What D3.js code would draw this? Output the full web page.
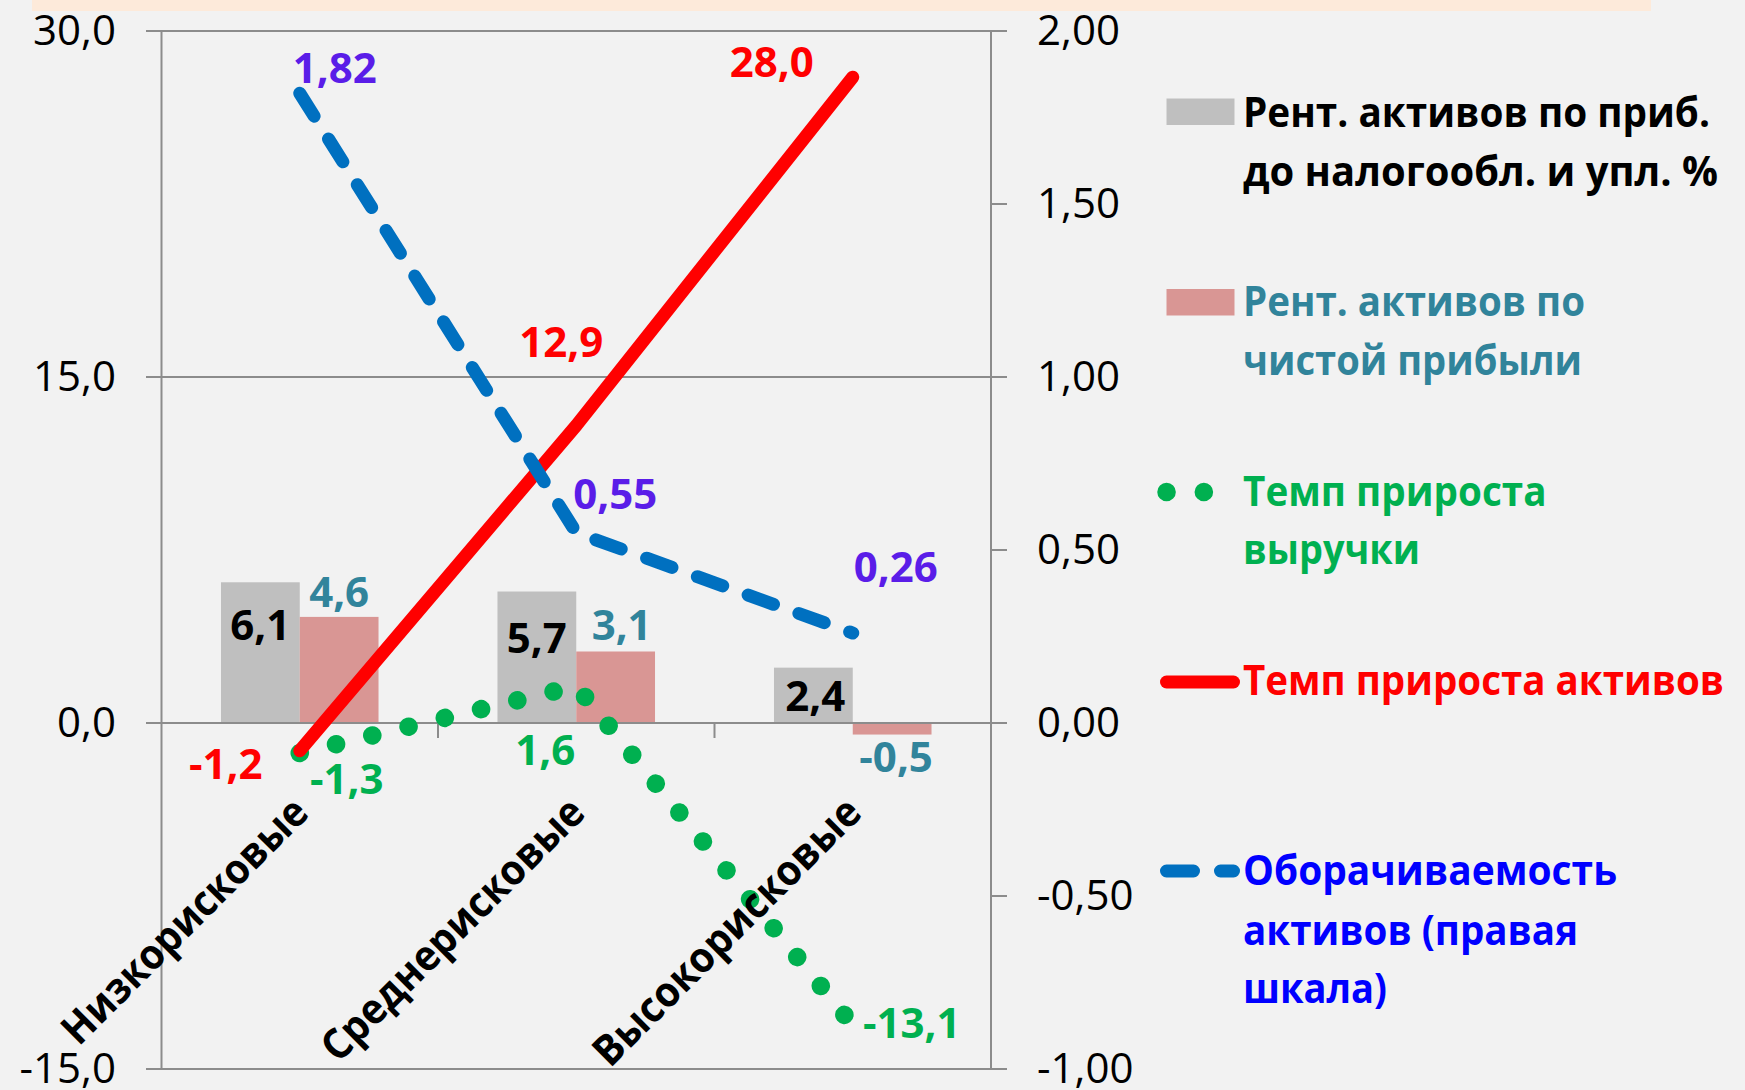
<!DOCTYPE html>
<html>
<head>
<meta charset="utf-8">
<script src="https://cdn.jsdelivr.net/npm/d3@7"></script>
<style>
  html, body { margin: 0; padding: 0; background: #F2F2F2; }
  svg { display: block; }
  text { font-family: "Open Sans", "Noto Sans", "DejaVu Sans", sans-serif; }
</style>
</head>
<body>
<svg id="chart" width="1745" height="1090"></svg>
<script>
// ---------- data ----------
const categories = ["Низкорисковые", "Среднерисковые", "Высокорисковые"];
const roaPreTax = [6.1, 5.7, 2.4];        // bars, grey
const roaNet = [4.6, 3.1, -0.5];          // bars, pink
const revenueGrowth = [-1.3, 1.6, -13.1]; // green dotted
const assetGrowth = [-1.2, 12.9, 28.0];   // red solid
const assetTurnover = [1.82, 0.55, 0.26]; // blue dashed, right axis
const leftTicks = [-15, 0, 15, 30];
const rightTicks = [-1, -0.5, 0, 0.5, 1, 1.5, 2];
const legendTexts = [
  ["Рент. активов по приб.", "до налогообл. и упл. %"],
  ["Рент. активов по", "чистой прибыли"],
  ["Темп прироста", "выручки"],
  ["Темп прироста активов"],
  ["Оборачиваемость", "активов (правая", "шкала)"]
];

// ---------- style / layout ----------
const C = {
  bg: "#F2F2F2", band: "#FDEADA", grid: "#8C8C8C",
  grey: "#BFBFBF", pink: "#D99694", teal: "#31849B",
  green: "#00B050", red: "#FF0000", blue: "#0070C0",
  purple: "#5A1DE8", legendBlue: "#0000FF"
};
const plot = { left: 161.5, right: 991, top: 31, bottom: 1069 };
const categoryLabelLengths = [328, 352, 359];

const loc = d3.formatLocale({ decimal: ",", thousands: " ", grouping: [3], currency: ["", ""], minus: "-" });
const f1 = loc.format(".1f"), f2 = loc.format(".2f");

const svg = d3.select("#chart");
svg.append("rect").attr("width", 1745).attr("height", 1090).attr("fill", C.bg);
svg.append("rect").attr("x", 32).attr("y", 0).attr("width", 1619).attr("height", 11).attr("fill", C.band);

const x = d3.scaleBand().domain(categories).range([plot.left, plot.right]);
const xi = d3.scaleBand().domain(["a", "b"]).range([0, x.bandwidth()]).paddingInner(0).paddingOuter(0.755);
const yL = d3.scaleLinear().domain([-15, 30]).range([plot.bottom, plot.top]);
const yR = d3.scaleLinear().domain([-1, 2]).range([plot.bottom, plot.top]);
const cx = (i) => x(categories[i]) + x.bandwidth() / 2;

// gridlines (left major ticks), extending out as tick marks
const g = svg.append("g");
g.selectAll("line.grid").data(leftTicks).join("line")
  .attr("x1", plot.left - 15.5).attr("x2", plot.right + 16)
  .attr("y1", d => yL(d)).attr("y2", d => yL(d))
  .attr("stroke", C.grid).attr("stroke-width", 2);
// right axis ticks
g.selectAll("line.rt").data(rightTicks).join("line")
  .attr("x1", plot.right).attr("x2", plot.right + 16)
  .attr("y1", d => yR(d)).attr("y2", d => yR(d))
  .attr("stroke", C.grid).attr("stroke-width", 2);

// bars
const bars = svg.append("g");
bars.selectAll("rect.g").data(roaPreTax).join("rect")
  .attr("x", (d, i) => x(categories[i]) + xi("a"))
  .attr("width", xi.bandwidth())
  .attr("y", d => yL(Math.max(0, d)))
  .attr("height", d => Math.abs(yL(d) - yL(0)))
  .attr("fill", C.grey);
bars.selectAll("rect.p").data(roaNet).join("rect")
  .attr("x", (d, i) => x(categories[i]) + xi("b"))
  .attr("width", xi.bandwidth())
  .attr("y", d => yL(Math.max(0, d)))
  .attr("height", d => Math.abs(yL(d) - yL(0)))
  .attr("fill", C.pink);

// axes lines
const ax = svg.append("g").attr("stroke", C.grid).attr("stroke-width", 2);
ax.append("line").attr("x1", plot.left).attr("x2", plot.left).attr("y1", plot.top).attr("y2", plot.bottom);
ax.append("line").attr("x1", plot.right).attr("x2", plot.right).attr("y1", plot.top).attr("y2", plot.bottom);
ax.append("line").attr("x1", plot.left).attr("x2", plot.right).attr("y1", yL(0)).attr("y2", yL(0));
ax.selectAll("line.ct").data(categories.slice(1)).join("line")
  .attr("x1", d => x(d)).attr("x2", d => x(d))
  .attr("y1", yL(0)).attr("y2", yL(0) + 15);

// tick labels
svg.append("g").selectAll("text").data(leftTicks).join("text")
  .attr("x", 116).attr("y", d => yL(d) + 13.5)
  .attr("text-anchor", "end").attr("font-size", 42).attr("fill", "#000")
  .text(d => f1(d));
svg.append("g").selectAll("text").data(rightTicks).join("text")
  .attr("x", 1037).attr("y", d => yR(d) + 13.5)
  .attr("text-anchor", "start").attr("font-size", 42).attr("fill", "#000")
  .text(d => f2(d));

// lines
const lineL = d3.line().x((d, i) => cx(i)).y(d => yL(d));
const lineR = d3.line().x((d, i) => cx(i)).y(d => yR(d));
const greenStyle = s => s.attr("fill", "none").attr("stroke", C.green).attr("stroke-width", 18.5)
  .attr("stroke-linecap", "round").attr("stroke-dasharray", "0.1 37.2");
const redStyle = s => s.attr("fill", "none").attr("stroke", C.red).attr("stroke-width", 13)
  .attr("stroke-linecap", "round").attr("stroke-linejoin", "round");
const blueStyle = s => s.attr("fill", "none").attr("stroke", C.blue).attr("stroke-width", 13)
  .attr("stroke-linecap", "round").attr("stroke-linejoin", "round").attr("stroke-dasharray", "27 27");

svg.append("path").attr("d", lineL(revenueGrowth)).call(greenStyle);
svg.append("path").attr("d", lineL(assetGrowth)).call(redStyle);
svg.append("path").attr("d", lineR(assetTurnover)).call(blueStyle);

// data labels
const labelOffsets = {
  red: [[-74, 28], [-15, -68], [-81, 0]],
  green: [[47, 41], [-31, 79], [59, 13]],
  blue: [[35, -10], [39, -24], [43, -51]],
  grey: [[0, 58], [0, 61], [2, 43]],
  pink: [[0, -10], [6, -11], [4, 37.5]]
};
const lbl = svg.append("g").attr("font-size", 42).attr("font-weight", 700).attr("text-anchor", "middle");
function addLabels(vals, yScale, offs, color, fmt) {
  lbl.selectAll(null).data(vals).join("text")
    .attr("x", (d, i) => cx(i) + offs[i][0])
    .attr("y", (d, i) => yScale(d) + offs[i][1])
    .attr("fill", color).text(d => fmt(d));
}
addLabels(assetGrowth, yL, labelOffsets.red, C.red, f1);
addLabels(revenueGrowth, yL, labelOffsets.green, C.green, f1);
addLabels(assetTurnover, yR, labelOffsets.blue, C.purple, f2);
lbl.selectAll(null).data(roaPreTax).join("text")
  .attr("x", (d, i) => x(categories[i]) + xi("a") + xi.bandwidth() / 2 + labelOffsets.grey[i][0])
  .attr("y", (d, i) => yL(d) + labelOffsets.grey[i][1])
  .attr("fill", "#000").text(d => f1(d));
lbl.selectAll(null).data(roaNet).join("text")
  .attr("x", (d, i) => x(categories[i]) + xi("b") + xi.bandwidth() / 2 + labelOffsets.pink[i][0])
  .attr("y", (d, i) => yL(d) + labelOffsets.pink[i][1])
  .attr("fill", C.teal).text(d => f1(d));

// category labels, rotated
svg.append("g").selectAll("text").data(categories).join("text")
  .attr("transform", d => `translate(${x(d) + x.bandwidth() / 2 + 11},${yL(0) + 92}) rotate(-45)`)
  .attr("text-anchor", "end").attr("font-size", 42).attr("font-weight", 700).attr("fill", "#000")
  .attr("textLength", (d, i) => categoryLabelLengths[i]).attr("lengthAdjust", "spacingAndGlyphs")
  .text(d => d);

// legend
const legendLayout = [
  { baselines: [127, 185.5], widths: [467, 475], color: "#000", sym: "rect", fill: C.grey, symY: 98.5 },
  { baselines: [315.5, 374.5], widths: [342, 339], color: C.teal, sym: "rect", fill: C.pink, symY: 289 },
  { baselines: [506, 564], widths: [303.5, 177], color: C.green, sym: "green", symY: 492 },
  { baselines: [695], widths: [481], color: C.red, sym: "red", symY: 682 },
  { baselines: [885, 944.5, 1003], widths: [374, 335, 144], color: C.legendBlue, sym: "blue", symY: 871 }
];
const lg = svg.append("g");
legendTexts.forEach((lines, k) => {
  const L = legendLayout[k];
  if (L.sym === "rect") {
    lg.append("rect").attr("x", 1166.5).attr("y", L.symY).attr("width", 68).attr("height", 26.5).attr("fill", L.fill);
  } else {
    const p = lg.append("path").attr("d", `M1166.5,${L.symY}H1233.5`);
    if (L.sym === "green") p.call(greenStyle);
    if (L.sym === "red") p.call(redStyle);
    if (L.sym === "blue") p.call(blueStyle);
  }
  lines.forEach((t, j) => {
    lg.append("text").attr("x", 1243).attr("y", L.baselines[j])
      .attr("font-size", 42).attr("font-weight", 700).attr("fill", L.color)
      .attr("textLength", L.widths[j]).attr("lengthAdjust", "spacingAndGlyphs")
      .text(t);
  });
});
</script>
</body>
</html>
